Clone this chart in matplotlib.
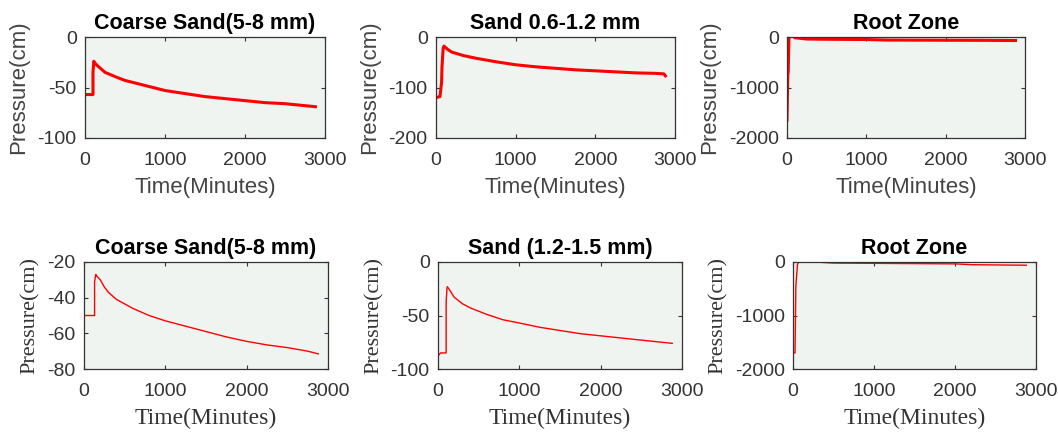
import numpy as np
import matplotlib
matplotlib.use('Agg')
from matplotlib import pyplot as plt

# MATLAB-style hyphen for negative ticks
matplotlib.rc('axes', unicode_minus=False)

# ---- data (time in minutes, pressure in cm) ----
t_coarse_a = [0, 100, 100, 110, 115, 150, 250, 400, 500, 700, 1000, 1250, 1500, 1750, 2000, 2250, 2500, 2750, 2880]
p_coarse_a = [-57, -57, -35, -24, -25, -28, -35, -40, -43, -47, -53, -56, -59, -61, -63, -65, -66, -68, -69]

t_sand_a = [0, 50, 70, 75, 90, 100, 150, 200, 350, 500, 750, 1000, 1250, 1500, 1750, 2000, 2250, 2500, 2750, 2860, 2880]
p_sand_a = [-120, -118, -90, -60, -22, -18, -25, -30, -37, -42, -49, -55, -59, -62, -65, -67, -69, -71, -72, -73, -77]

t_root_a = [0, 10, 15, 25, 35, 60, 100, 250, 500, 1000, 1250, 1500, 2000, 2500, 2880]
p_root_a = [-1650, -750, -700, -20, 10, 30, -15, -40, -45, -50, -60, -62, -64, -66, -70]

t_coarse_b = [0, 130, 130, 145, 150, 200, 250, 300, 400, 500, 600, 800, 1000, 1250, 1500, 1750, 2000, 2250, 2500, 2750, 2880]
p_coarse_b = [-50, -50, -31, -27, -27.5, -30, -34, -37, -41, -43.5, -46, -50, -53, -56, -59, -62, -64.5, -66.5, -68, -70, -71.5]

t_sand_b = [0, 30, 100, 100, 110, 115, 150, 200, 300, 400, 600, 800, 1000, 1250, 1500, 1750, 2000, 2250, 2500, 2750, 2880]
p_sand_b = [-88, -85, -85, -38, -25, -23, -27, -33, -39, -43, -49, -54, -57, -61, -64, -67, -69, -71, -73, -75, -76]

t_root_b = [20, 25, 35, 55, 70, 150, 500, 1000, 1500, 2000, 2200, 2500, 2880]
p_root_b = [-1700, -1700, -450, -50, 0, 10, -20, -25, -30, -35, -50, -55, -60]

titles_a = ['Coarse Sand(5-8 mm)', 'Sand 0.6-1.2 mm', 'Root Zone']
titles_b = ['Coarse Sand(5-8 mm)', 'Sand (1.2-1.5 mm)', 'Root Zone']
ylims_a = [(-100, 0), (-200, 0), (-2000, 0)]
ylims_b = [(-80, -20), (-100, 0), (-2000, 0)]
yticks_a = [[-100, -50, 0], [-200, -100, 0], [-2000, -1000, 0]]
yticks_b = [[-80, -60, -40, -20], [-100, -50, 0], [-2000, -1000, 0]]

bg = '#eff4f0'
fig = plt.figure(figsize=(10.58, 4.32), dpi=100)

# axes boxes measured in pixels (left, top, right, bottom)
W, H = 1058.0, 432.0
boxes_a = [(85, 37, 325, 138), (436, 37, 675, 138), (787, 37, 1025, 138)]
boxes_b = [(84, 262, 328, 369), (438, 262, 682, 369), (793, 262, 1036, 369)]

def setup(box, title, ylim, yticks, serif, lw, t, p):
    l, tp, r, b = box
    ax = fig.add_axes([l / W, 1 - b / H, (r - l) / W, (b - tp) / H])
    ax.set_facecolor(bg)
    ax.plot(t, p, color='#ff0000', lw=lw)
    ax.set_xlim(0, 3000)
    ax.set_ylim(*ylim)
    ax.set_xticks([0, 1000, 2000, 3000])
    ax.set_yticks(yticks)
    ax.tick_params(direction='in', length=3, top=True, right=True, labelsize=14,
                   labelcolor='#333333', colors='#333333', width=0.8)
    ax.tick_params(axis='x', pad=10)
    ax.tick_params(axis='y', pad=6)
    for s in ax.spines.values():
        s.set_color('#333333')
        s.set_linewidth(0.9)
    for lab in ax.get_xticklabels() + ax.get_yticklabels():
        lab.set_fontfamily('Liberation Sans')
    ax.set_title(title, fontsize=15.5, fontweight='bold', family='Liberation Sans', pad=6)
    if serif:
        ax.set_xlabel('Time(Minutes)', fontsize=17, family='Liberation Serif', color='#333333', labelpad=6)
        ax.set_ylabel('Pressure(cm)', fontsize=16, family='Liberation Serif', color='#333333', labelpad=5)
    else:
        ax.set_xlabel('Time(Minutes)', fontsize=16, family='Liberation Sans', color='#444444', labelpad=6)
        ax.set_ylabel('Pressure(cm)', fontsize=16, family='Liberation Sans', color='#444444', labelpad=6)
    return ax

data_a = [(t_coarse_a, p_coarse_a), (t_sand_a, p_sand_a), (t_root_a, p_root_a)]
data_b = [(t_coarse_b, p_coarse_b), (t_sand_b, p_sand_b), (t_root_b, p_root_b)]

for i in range(3):
    setup(boxes_a[i], titles_a[i], ylims_a[i], yticks_a[i], False, 2.2, *data_a[i])
    setup(boxes_b[i], titles_b[i], ylims_b[i], yticks_b[i], True, 1.0, *data_b[i])

plt.savefig('out.png', dpi=100)
